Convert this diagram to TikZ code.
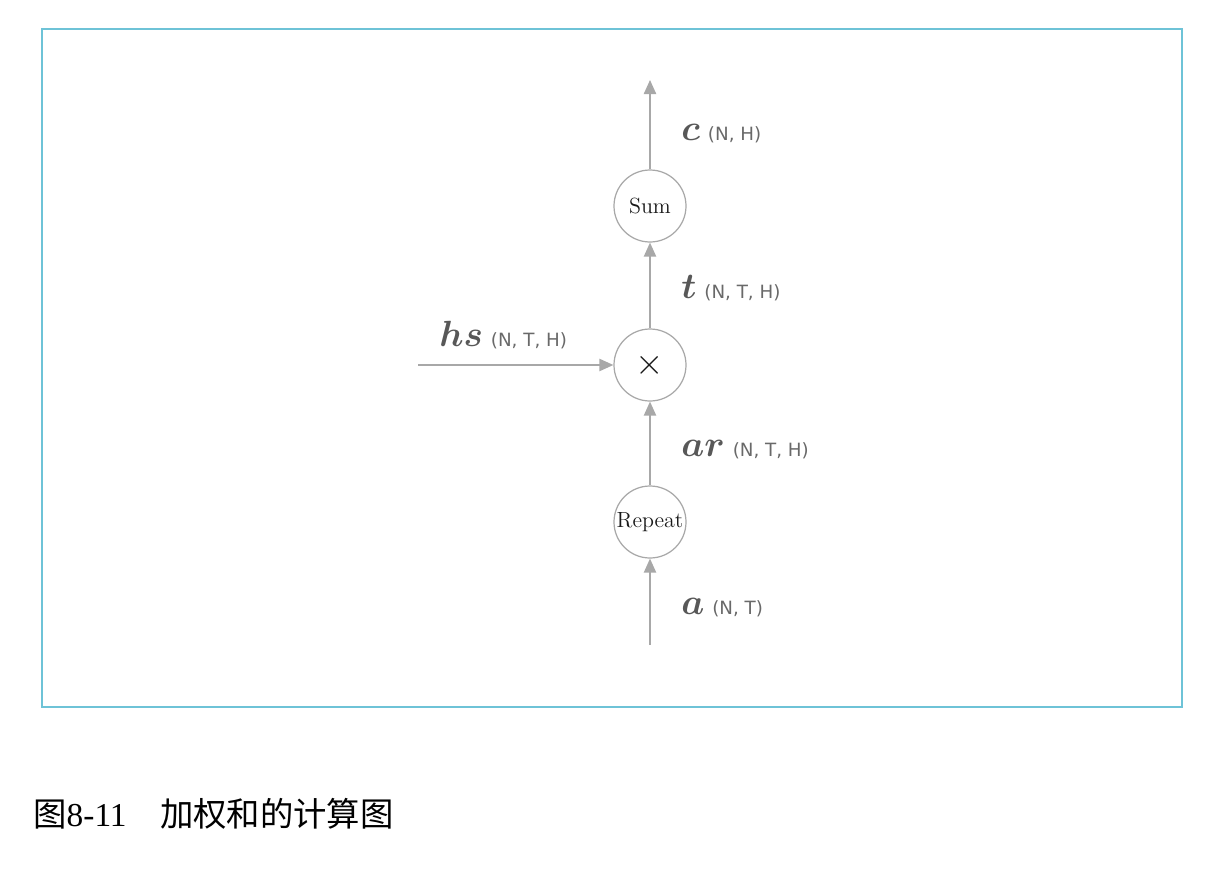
\documentclass[tikz,border=0pt]{standalone}
\usepackage{amsmath}
\usepackage{bm}
\usepackage{fontspec}
\newfontfamily\cjk{Noto Sans CJK SC}
\newfontfamily\capserif{Liberation Serif}
\newfontfamily\shapesans{DejaVu Sans}
\usetikzlibrary{arrows.meta}
\definecolor{framecol}{RGB}{110,195,215}
\definecolor{linecol}{RGB}{168,168,168}
\definecolor{mathcol}{RGB}{88,88,88}
\definecolor{monocol}{RGB}{105,105,105}
\tikzset{
  opnode/.style={circle,draw=linecol,line width=0.7pt,minimum size=72*0.02cm,inner sep=0pt,text=black!90,font=\fontsize{12.5}{15}\selectfont},
  flow/.style={draw=linecol,line width=0.85pt,-{Triangle[length=8pt,width=7pt]}},
  lbl/.style={anchor=base west,inner sep=0pt,text=mathcol,font=\fontsize{20}{23}\selectfont},
}
\newcommand{\shp}[1]{\hspace{4.5pt}{\shapesans\fontsize{10.4}{12}\selectfont\color{monocol}#1}}
\begin{document}
\begin{tikzpicture}[x=0.02cm,y=-0.02cm]
\useasboundingbox (0,0) rectangle (1214,886);
\draw[framecol,line width=0.8pt] (42,29) rectangle (1182,707);
\node[opnode] (sum) at (650,206) {Sum};
\node[opnode,font=\fontsize{20}{22}\selectfont] (mul) at (650,365) {$\times$};
\node[opnode] (rep) at (650,522) {Repeat};
\coordinate (top) at (650,80);
\coordinate (bot) at (650,645);
\coordinate (left) at (418,365);
\draw[flow] (sum) -- (top);
\draw[flow] (mul) -- (sum);
\draw[flow] (rep) -- (mul);
\draw[flow] (bot) -- (rep);
\draw[flow] (left) -- (mul);
\node[lbl] (lc) at (681,140) {$\bm{c}$\shp{(N, H)}};
\node[lbl] (lt) at (681,298) {$\bm{t}$\shp{(N, T, H)}};
\node[lbl] (lhs) at (439,346) {$\bm{hs}$\shp{(N, T, H)}};
\node[lbl] (lar) at (681,456) {$\bm{ar}$\shp{(N, T, H)}};
\node[lbl] (la) at (681,614) {$\bm{a}$\shp{(N, T)}};
\node[anchor=base west,inner sep=0pt,font=\fontsize{19}{21}\selectfont] (cap) at (33,826)
  {{\cjk 图}{\capserif 8-11}\hspace{19pt}{\cjk 加权和的计算图}};
\end{tikzpicture}
\end{document}
